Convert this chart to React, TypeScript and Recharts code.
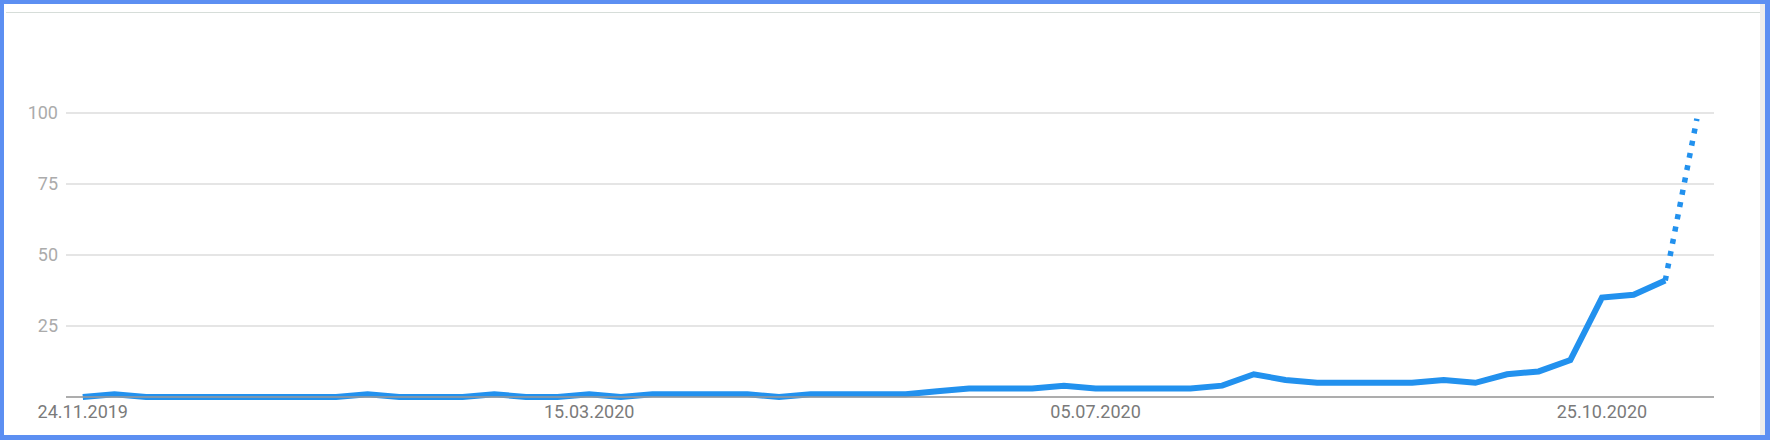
import { LineChart, Line, XAxis, YAxis, CartesianGrid } from 'recharts'

// weekly interest, 24.11.2019 .. 15.11.2020 (last week is partial)
const weeks = [
  '24.11.2019', '01.12.2019', '08.12.2019', '15.12.2019', '22.12.2019', '29.12.2019', '05.01.2020', '12.01.2020',
  '19.01.2020', '26.01.2020', '02.02.2020', '09.02.2020', '16.02.2020', '23.02.2020', '01.03.2020', '08.03.2020',
  '15.03.2020', '22.03.2020', '29.03.2020', '05.04.2020', '12.04.2020', '19.04.2020', '26.04.2020', '03.05.2020',
  '10.05.2020', '17.05.2020', '24.05.2020', '31.05.2020', '07.06.2020', '14.06.2020', '21.06.2020', '28.06.2020',
  '05.07.2020', '12.07.2020', '19.07.2020', '26.07.2020', '02.08.2020', '09.08.2020', '16.08.2020', '23.08.2020',
  '30.08.2020', '06.09.2020', '13.09.2020', '20.09.2020', '27.09.2020', '04.10.2020', '11.10.2020', '18.10.2020',
  '25.10.2020', '01.11.2020', '08.11.2020', '15.11.2020',
]

const interest = [
  0, 1, 0, 0, 0, 0, 0, 0, 0, 1, 0, 0, 0, 1, 0, 0,
  1, 0, 1, 1, 1, 1, 0, 1, 1, 1, 1, 2, 3, 3, 3, 4,
  3, 3, 3, 3, 4, 8, 6, 5, 5, 5, 5, 6, 5, 8, 9, 13,
  35, 36, 41, 98,
]

const xTicks = [0, 16, 32, 48]
const yTicks = [0, 25, 50, 75, 100]

const partialFrom = interest.length - 2

const data = interest.map((v, i) => ({
  i,
  week: weeks[i],
  full: i <= partialFrom ? v : null,
  partial: i >= partialFrom ? v : null,
}))

const lineColor = '#2291ee'
const font = 'Roboto, "Noto Sans", sans-serif'

export default function App() {
  return (
    <div style={{ position: 'absolute', left: 0, top: 0, width: 1770, height: 440, background: '#fff', fontFamily: font }}>
      <div style={{ position: 'absolute', left: 6, top: 12, width: 1754, height: 0, borderTop: '1px solid #d6ddd9' }} />
      <div style={{ position: 'absolute', left: 1760, top: 4, width: 5, height: 431, background: '#ededed' }} />
      <div style={{ position: 'absolute', left: 0, top: 0 }}>
        <LineChart width={1770} height={440} data={data} margin={{ top: 113, right: 56, left: 6, bottom: 13 }}>
          <CartesianGrid vertical={false} stroke="#dcdcdc" strokeWidth={1.5} />
          <XAxis
            dataKey="i"
            type="number"
            domain={[-0.53, 51.54]}
            allowDataOverflow
            ticks={xTicks}
            tickFormatter={(i: number) => weeks[i]}
            tickLine={false}
            axisLine={{ stroke: '#9a9a9a', strokeWidth: 1.5 }}
            tick={{ fill: '#7a7a7a', fontSize: 18, fontFamily: font }}
            height={30}
          />
          <YAxis
            domain={[0, 100]}
            ticks={yTicks}
            tickFormatter={(v: number) => (v === 0 ? '' : String(v))}
            axisLine={false}
            tickLine={false}
            width={60}
            tick={{ fill: '#ababab', fontSize: 18, fontFamily: font }}
          />
          <Line
            type="linear"
            dataKey="full"
            stroke={lineColor}
            strokeWidth={6}
            dot={false}
            activeDot={false}
            connectNulls={false}
            isAnimationActive={false}
          />
          <Line
            type="linear"
            dataKey="partial"
            stroke={lineColor}
            strokeWidth={5.5}
            strokeDasharray="5 7.5"
            strokeLinecap="butt"
            dot={false}
            activeDot={false}
            isAnimationActive={false}
          />
        </LineChart>
      </div>
      <div
        style={{
          position: 'absolute', left: 0, top: 0, width: 1770, height: 440, boxSizing: 'border-box',
          borderTop: '4px solid #5c8ff2', borderLeft: '4px solid #5c8ff2',
          borderRight: '5px solid #5c8ff2', borderBottom: '5px solid #5c8ff2', pointerEvents: 'none',
        }}
      />
    </div>
  )
}
